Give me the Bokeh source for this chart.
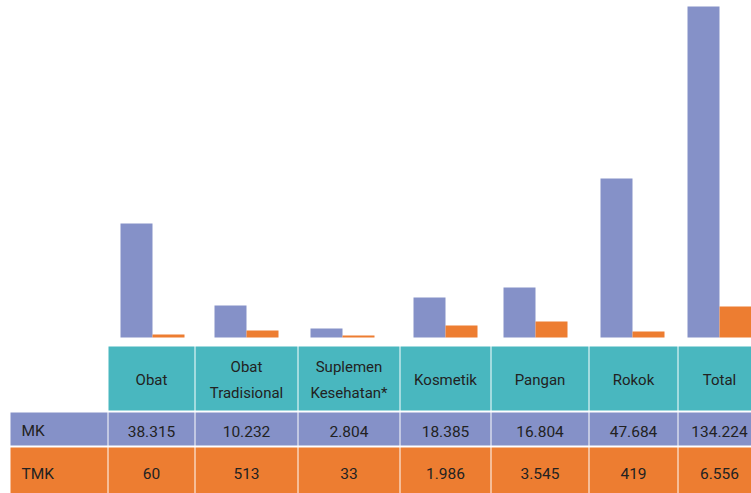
from bokeh.plotting import figure
from bokeh.models import Range1d
from bokeh.core.properties import value
from bokeh.embed import file_html
from bokeh.resources import INLINE

# ---------------- data ----------------
categories = ["Obat", "Obat\nTradisional", "Suplemen\nKesehatan*", "Kosmetik",
              "Pangan", "Rokok", "Total"]
mk_labels = ["38.315", "10.232", "2.804", "18.385", "16.804", "47.684", "134.224"]
tmk_labels = ["60", "513", "33", "1.986", "3.545", "419", "6.556"]
# bar heights (thousands)
bar_mk = [46.2, 13.0, 3.6, 16.2, 20.3, 64.5, 134.2]
bar_tmk = [1.2, 2.8, 0.8, 4.9, 6.5, 2.4, 12.6]
row_names = ["MK", "TMK"]

# ---------------- layout (pixels) ----------------
W, H = 751, 493
bar_centers = [152, 246, 342, 445, 535, 632, 719]
bar_w = 32
col_left = [108, 195, 298, 400, 491, 589, 678]
col_right = [194, 297, 399, 490, 588, 677, 760]
label_left, label_right = 10, 107
hdr_top, hdr_bot = 346, 410
mk_top, mk_bot = 412, 445
tmk_top, tmk_bot = 447, 500
base_px = 337
px_per_unit = 331 / 134.224

PURPLE = "#8591C8"
ORANGE = "#ED7D31"
TEAL = "#49B7BF"
TXT = "#222222"
FONT = value("Roboto")
FS = "15.5px"
FS_H = "15px"

p = figure(width=W, height=H, output_backend="svg", toolbar_location=None,
           x_axis_type=None, y_axis_type=None, min_border=0,
           x_range=Range1d(0, W), y_range=Range1d(H, 0))
p.outline_line_color = None
p.background_fill_color = "white"
p.extra_y_ranges = {"val": Range1d(start=-(H - base_px) / px_per_unit,
                                   end=base_px / px_per_unit)}

# bars
mk_x = [c - bar_w / 2 for c in bar_centers]
tmk_x = [c + bar_w / 2 for c in bar_centers]
p.vbar(x=mk_x, width=bar_w, top=bar_mk, bottom=0, y_range_name="val",
       fill_color=PURPLE, line_color=None)
p.vbar(x=tmk_x, width=bar_w, top=bar_tmk, bottom=0, y_range_name="val",
       fill_color=ORANGE, line_color=None)

# table cells
n = len(categories)
p.quad(left=col_left, right=col_right, top=[hdr_top] * n, bottom=[hdr_bot] * n,
       fill_color=TEAL, line_color=None)
p.quad(left=[label_left] + col_left, right=[label_right] + col_right,
       top=[mk_top] * (n + 1), bottom=[mk_bot] * (n + 1),
       fill_color=PURPLE, line_color=None)
p.quad(left=[label_left] + col_left, right=[label_right] + col_right,
       top=[tmk_top] * (n + 1), bottom=[tmk_bot] * (n + 1),
       fill_color=ORANGE, line_color=None)

centers = [(l + r) / 2 for l, r in zip(col_left, col_right)]
centers[-1] = 719

# header texts
hx, hy, ht = [], [], []
hmid = (hdr_top + hdr_bot) / 2 + 1.5
for c, lab in zip(centers, categories):
    lines = lab.split("\n")
    if len(lines) == 1:
        hx.append(c); hy.append(hmid); ht.append(lines[0])
    else:
        hx += [c, c]; hy += [hmid - 13, hmid + 13]; ht += lines
p.text(x=hx, y=hy, text=ht, text_align="center", text_baseline="middle",
       text_font=FONT, text_font_size=FS_H, text_color=TXT)

mk_y = 430.5
tmk_y = 473
# values
p.text(x=centers, y=[mk_y] * n, text=mk_labels,
       text_align="center", text_baseline="middle",
       text_font=FONT, text_font_size=FS, text_color=TXT)
p.text(x=centers, y=[tmk_y] * n, text=tmk_labels,
       text_align="center", text_baseline="middle",
       text_font=FONT, text_font_size=FS, text_color=TXT)

# row labels
p.text(x=[21, 21], y=[mk_y, tmk_y], text=row_names,
       text_align="left", text_baseline="middle",
       text_font=FONT, text_font_size=FS, text_color=TXT)

open("out.html", "w").write(file_html(p, INLINE))
